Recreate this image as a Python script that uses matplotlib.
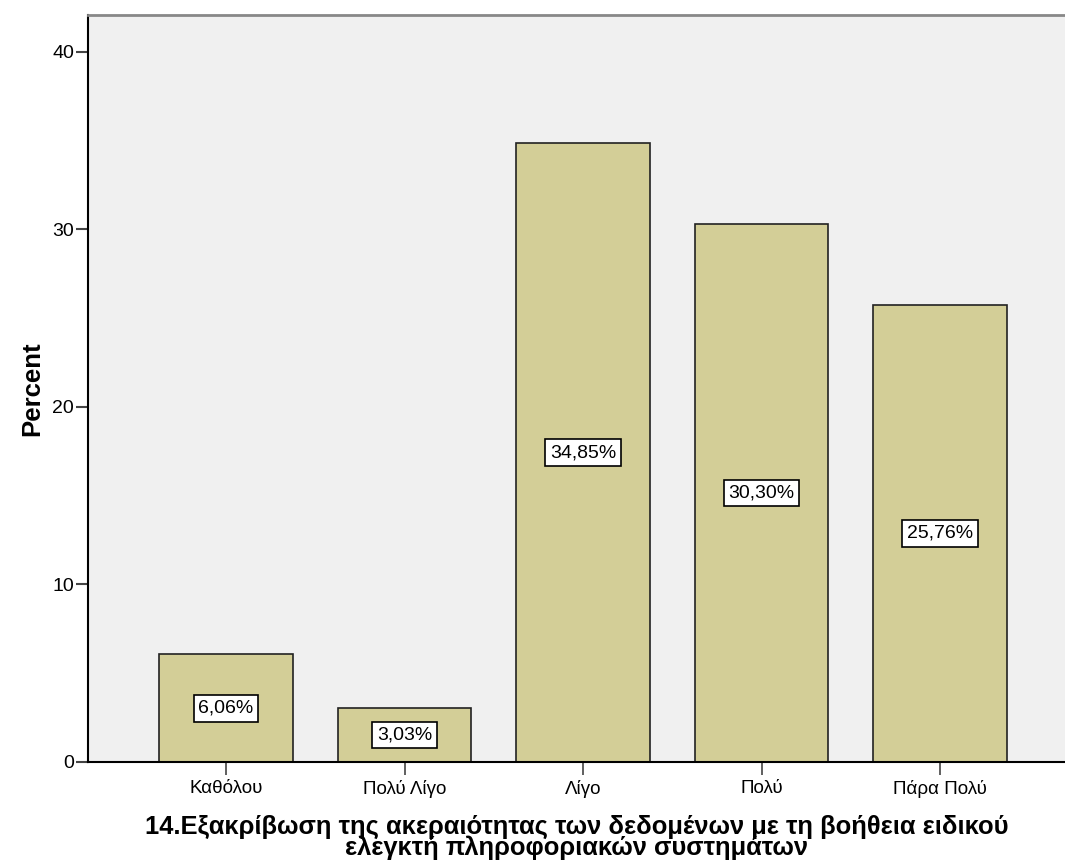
import matplotlib
matplotlib.use("Agg")
import matplotlib.pyplot as plt

plt.rcParams['font.family'] = ['Liberation Sans', 'DejaVu Sans']

categories = ['Καθόλου', 'Πολύ Λίγο', 'Λίγο', 'Πολύ', 'Πάρα Πολύ']
percents = [6.06, 3.03, 34.85, 30.30, 25.76]
y_ticks = [0, 10, 20, 30, 40]
xlabel = '14.Εξακρίβωση της ακεραιότητας των δεδομένων με τη βοήθεια ειδικού\nελεγκτή πληροφοριακών συστημάτων'

fig = plt.figure(figsize=(10.65, 8.65), dpi=100)
ax = fig.add_axes([88 / 1065, 103 / 865, 977 / 1065, 747 / 865])
ax.set_facecolor('#F0F0F0')

x = range(len(categories))
ax.bar(x, percents, width=0.75, color='#D3CE97', edgecolor='#222222', linewidth=1.2, zorder=2)

for i, v in enumerate(percents):
    ax.text(i, v / 2, f"{v:.2f}%".replace('.', ','), ha='center', va='center', fontsize=14,
            bbox=dict(boxstyle='square,pad=0.25', facecolor='white', edgecolor='black', linewidth=1.2),
            zorder=3)

ax.set_xlim(-0.773, 4.70)
ax.set_ylim(0, 42.08)
ax.set_xticks(list(x))
ax.set_xticklabels(categories, fontsize=13.5)
ax.set_yticks(y_ticks)
ax.tick_params(axis='y', labelsize=14, length=9, width=1.5, color='#444444', pad=1)
ax.tick_params(axis='x', length=9, width=1.2, color='#444444', pad=4)

ax.spines['right'].set_visible(False)
ax.spines['top'].set_color('#888888')
ax.spines['top'].set_linewidth(2)
ax.spines['left'].set_linewidth(1.5)
ax.spines['bottom'].set_linewidth(1.5)

ax.set_ylabel('Percent', fontsize=18.5, fontweight='bold', labelpad=6)
ax.set_xlabel(xlabel, fontsize=18.4, fontweight='bold', labelpad=12, linespacing=0.82)

fig.savefig('out.png', dpi=100)
